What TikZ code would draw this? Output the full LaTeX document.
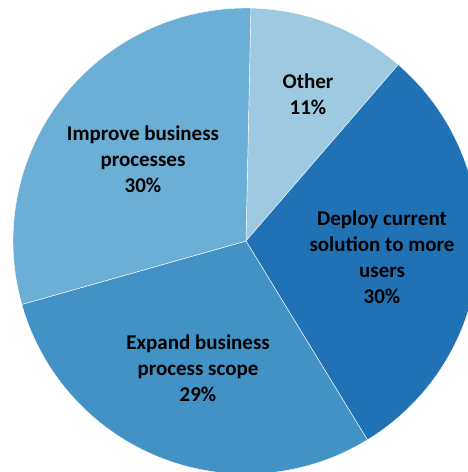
\documentclass[tikz,border=0pt]{standalone}
\usepackage{fontspec}
\setmainfont{Carlito}
\usepackage{tikz}
\usetikzlibrary{calc}
\definecolor{blueA}{HTML}{9ECAE1}
\definecolor{blueB}{HTML}{2171B5}
\definecolor{blueC}{HTML}{4292C6}
\definecolor{blueD}{HTML}{6BAED6}
\def\R{233}
\def\pieslice[#1](#2:#3){\draw[#1, draw=white, line width=0.4pt] (0, 0) -- (#2:\R) arc (#2:#3:\R) -- cycle;}
\tikzset{label/.style={align=center, font=\fontsize{21}{26}\selectfont\bfseries, text=black}}

\begin{document}
\begin{tikzpicture}[x=1pt, y=1pt]
			%%%%% START %%%%%
			
			\useasboundingbox (-246, -231) rectangle (222, 241);
			
			\pieslice[fill=blueA](88.8:49.2);
			\pieslice[fill=blueB](49.2:-58.6);
			\pieslice[fill=blueC](-58.6:-164.2);
			\pieslice[fill=blueD](195.8:88.8);
			
			\node[label] (other) at (62, 147) {Other\\11\%};
			\node[label] (deploy) at (136, -16) {Deploy current\\solution to more\\users\\30\%};
			\node[label] (expand) at (-48, -127) {Expand business\\process scope\\29\%};
			\node[label] (improve) at (-103, 82) {Improve business\\processes\\30\%};
			
			%%%%% END %%%%%
\end{tikzpicture}
\end{document}
